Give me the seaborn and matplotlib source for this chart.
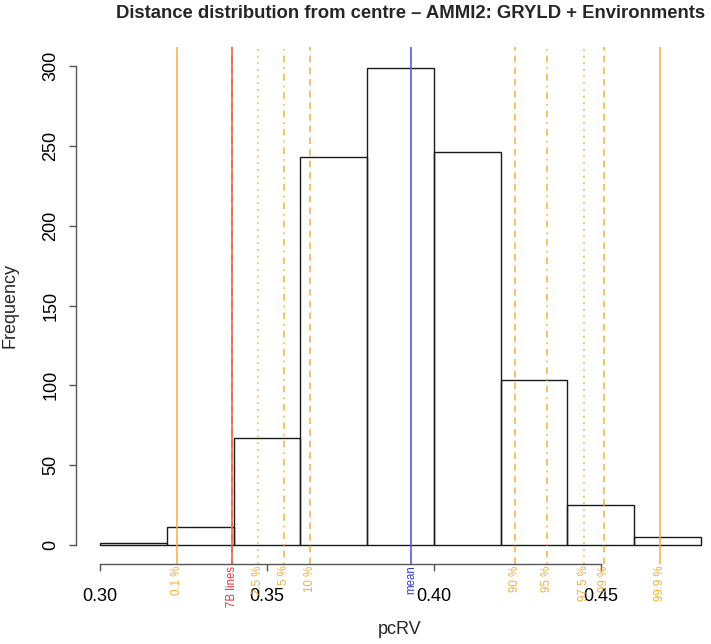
import matplotlib
matplotlib.use("Agg")
import matplotlib.pyplot as plt
import matplotlib.transforms as mtransforms
import numpy as np
import seaborn as sns

# --- data ---
bin_edges = [0.30, 0.32, 0.34, 0.36, 0.38, 0.40, 0.42, 0.44, 0.46, 0.48]
bin_counts = [1, 11, 67, 243, 299, 246, 103, 25, 5]

quantile_labels = ["0.1 %", "1 %", "2.5 %", "5 %", "10 %", "90 %", "95 %", "97.5 %", "99 %", "99.9 %"]
quantile_values = [0.3231, 0.3395, 0.3473, 0.3551, 0.3629, 0.4243, 0.4338, 0.4449, 0.4509, 0.4677]
quantile_styles = ["-", (0, (4, 3)), (0, (1, 3)), (0, (1, 3, 4, 3)), (0, (4, 3)),
                   (0, (4, 3)), (0, (1, 3, 4, 3)), (0, (1, 3)), (0, (4, 3)), "-"]
show_label = [True, False, True, True, True, True, True, True, True, True]

mean_value = 0.3931
lines_7b_value = 0.3395

x_ticks = [0.30, 0.35, 0.40, 0.45]
y_ticks = [0, 50, 100, 150, 200, 250, 300]

sns.set_style("white")
plt.rcParams["font.family"] = ["Liberation Sans", "DejaVu Sans"]

W, H = 711, 644
fig = plt.figure(figsize=(W / 100, H / 100), dpi=100)
# plot region in pixels (R style: extends slightly past the image on the right)
left, right, top, bottom = 76, 725, 47, 564
ax = fig.add_axes([left / W, 1 - bottom / H, (right - left) / W, (bottom - top) / H])

centers = [(a + b) / 2 for a, b in zip(bin_edges[:-1], bin_edges[1:])]
sns.histplot(x=centers, weights=bin_counts, bins=bin_edges, fill=False,
             element="bars", color="#1a1a1a", linewidth=1.0, ax=ax)

orange = "#F2B035"
trans = mtransforms.blended_transform_factory(ax.transData, ax.transAxes)
for lab, val, ls, show in zip(quantile_labels, quantile_values, quantile_styles, show_label):
    ax.axvline(val, color=orange, lw=1.2, ls=ls, alpha=0.9)
    if show:
        ax.text(val, -0.003, lab, transform=trans, rotation=90, ha="center", va="top",
                fontsize=8.3, color=orange)

ax.axvline(lines_7b_value, color="#E5534B", lw=1.3, alpha=0.8)
ax.text(lines_7b_value, -0.003, "7B lines", transform=trans, rotation=90, ha="center",
        va="top", fontsize=8.3, color="#E8333A")
ax.axvline(mean_value, color="#5B5BDB", lw=1.2)
ax.text(mean_value, -0.003, "mean", transform=trans, rotation=90, ha="center",
        va="top", fontsize=8.3, color="#3A3AD0")

ax.set_xlim(0.2928, 0.4872)
ax.set_ylim(-12, 312)

for s in ["top", "right"]:
    ax.spines[s].set_visible(False)
ax.spines["bottom"].set_bounds(x_ticks[0], x_ticks[-1])
ax.spines["left"].set_bounds(y_ticks[0], y_ticks[-1])
for s in ["bottom", "left"]:
    ax.spines[s].set_color("#555555")
    ax.spines[s].set_linewidth(1.0)

ax.set_xticks(x_ticks)
ax.set_xticklabels([f"{t:.2f}" for t in x_ticks])
ax.set_yticks(y_ticks)
ax.set_yticklabels([str(t) for t in y_ticks], rotation=90, va="center")
ax.tick_params(axis="x", bottom=True, direction="out", length=5, width=1, color="#555555",
               pad=12.5, labelsize=13, labelcolor="black")
ax.tick_params(axis="y", left=True, direction="out", length=5, width=1, color="#555555",
               pad=7, labelsize=13, labelcolor="black")
ax.set_xlabel("")
ax.set_ylabel("")
ax.grid(False)

fig.text(400 / W, 1 - 630 / H, "pcRV", ha="center", va="center", fontsize=13)
fig.text(10 / W, 1 - 305 / H, "Frequency", ha="center", va="center", rotation=90, fontsize=13)
fig.text(411 / W, 1 - 14 / H, "Distance distribution from centre \u2013 AMMI2: GRYLD + Environments",
         ha="center", va="center", fontsize=13.3, fontweight="bold")

fig.savefig("out.png", dpi=100)
